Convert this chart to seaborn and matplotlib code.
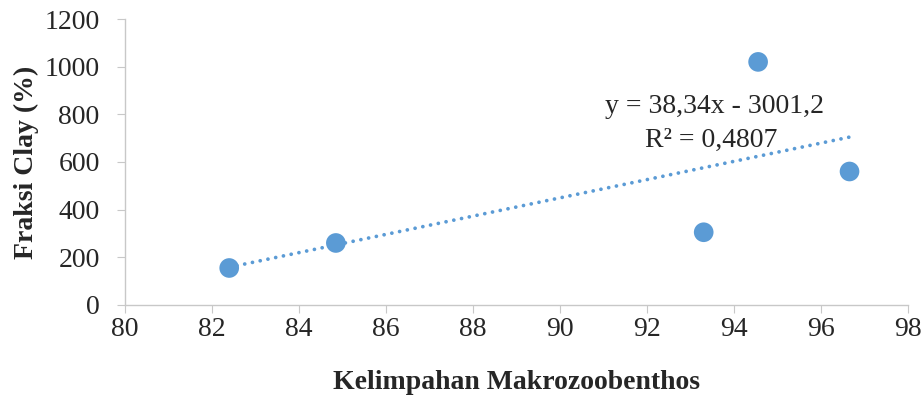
import numpy as np
import seaborn as sns
import matplotlib
matplotlib.use("Agg")
import matplotlib.pyplot as plt

# data
kelimpahan = [82.4, 84.85, 93.3, 94.55, 96.65]
fraksi_clay = [155, 260, 305, 1020, 560]
slope = 38.34
intercept = -3001.2
xticks = [80, 82, 84, 86, 88, 90, 92, 94, 96, 98]
yticks = [0, 200, 400, 600, 800, 1000, 1200]

sns.set_style("white")
plt.rcParams['font.family'] = ['Liberation Serif', 'DejaVu Serif']

blue = '#5B9BD5'
grey = '#C8C8C8'
fs = 20

fig = plt.figure(figsize=(9.24, 3.96), dpi=100)
ax = fig.add_axes([0.135, 0.23, 0.848, 0.722])

sns.scatterplot(x=kelimpahan, y=fraksi_clay, ax=ax, color=blue, s=200,
                edgecolor='none', zorder=3)

# linear trendline over the data range
xl = np.array([min(kelimpahan), max(kelimpahan)])
ax.plot(xl, slope * xl + intercept, color=blue, lw=2.7, ls=(0, (0.01, 2.1)),
        dash_capstyle='round', zorder=2)

ax.text(91.03, 831, "y = 38,34x - 3001,2", fontsize=fs, va='center')
ax.text(91.95, 692, "R² = 0,4807", fontsize=fs, va='center')

ax.set_xlim(80, 98)
ax.set_ylim(0, 1200)
ax.set_xticks(xticks)
ax.set_yticks(yticks)
ax.tick_params(axis='both', labelsize=fs, length=6, color=grey, direction='out',
               bottom=True, left=True)
ax.tick_params(axis='x', pad=3)
ax.tick_params(axis='y', pad=12)

for s in ['top', 'right']:
    ax.spines[s].set_visible(False)
for s in ['left', 'bottom']:
    ax.spines[s].set_color(grey)
    ax.spines[s].set_linewidth(1)

ax.set_xlabel("Kelimpahan Makrozoobenthos", fontsize=fs, fontweight='bold', labelpad=20)
ax.set_ylabel("Fraksi Clay (%)", fontsize=fs, fontweight='bold', labelpad=4)

plt.savefig("out.png", dpi=100)
